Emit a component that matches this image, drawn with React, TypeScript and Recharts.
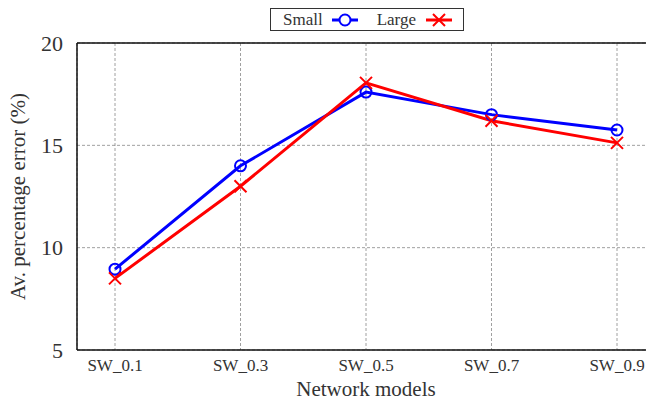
import { LineChart, Line, XAxis, YAxis, CartesianGrid } from 'recharts';

const MODELS = ['SW_0.1', 'SW_0.3', 'SW_0.5', 'SW_0.7', 'SW_0.9'];
const SMALL = [8.95, 14.0, 17.6, 16.5, 15.75];
const LARGE = [8.5, 13.0, 18.05, 16.2, 15.12];
const Y_TICKS = [5, 10, 15, 20];

const data = MODELS.map((m, i) => ({ model: m, small: SMALL[i], large: LARGE[i] }));

const FONT = '"Liberation Serif", "Times New Roman", serif';

const CircleDot = (props: any) => {
    const { cx, cy } = props;
    if (cx == null || cy == null) return null;
    return <circle cx={cx} cy={cy} r={5.5} fill="none" stroke="#0000ff" strokeWidth={2} />;
};

const CrossDot = (props: any) => {
    const { cx, cy } = props;
    if (cx == null || cy == null) return null;
    const s = 6;
    return <path d={`M${cx - s},${cy - s}L${cx + s},${cy + s}M${cx - s},${cy + s}L${cx + s},${cy - s}`} stroke="#ff0000" strokeWidth={2} fill="none" />;
};

function LegendBox() {
    return (
        <div style={{ position: 'absolute', left: 270, top: 8, display: 'flex', alignItems: 'center', border: '1px solid #333', height: 21, padding: '0 9px 0 12px', fontFamily: FONT, fontSize: 17, color: '#333', background: 'white' }}>
            <span>Small</span>
            <svg width={30} height={14} style={{ margin: '0 17px 0 7px' }}>
                <line x1={2} y1={7} x2={28} y2={7} stroke="#0000ff" strokeWidth={3} />
                <circle cx={15} cy={7} r={5.5} fill="white" stroke="#0000ff" strokeWidth={2} />
            </svg>
            <span>Large</span>
            <svg width={30} height={14} style={{ marginLeft: 8 }}>
                <line x1={2} y1={7} x2={28} y2={7} stroke="#ff0000" strokeWidth={3} />
                <path d="M9,1L21,13M9,13L21,1" stroke="#ff0000" strokeWidth={2} />
            </svg>
        </div>
    );
}

export default function App() {
    return (
        <div style={{ position: 'absolute', left: 0, top: 0, width: 646, height: 402, overflow: 'hidden', background: 'white' }}>
            <LineChart width={690} height={402} data={data} margin={{ top: 42, right: 35, bottom: 0, left: 0 }}>
                <CartesianGrid stroke="#888" strokeDasharray="3 2" strokeWidth={0.8} />
                <XAxis dataKey="model" padding={{ left: 38, right: 38 }} height={52} axisLine={{ stroke: '#111', strokeWidth: 1.5 }} tickLine={false}
                    tick={{ fontFamily: FONT, fontSize: 17, fill: '#333' }} tickMargin={3}
                    label={{ value: 'Network models', position: 'insideBottom', offset: 6, style: { fontFamily: FONT, fontSize: 21, fill: '#333' } }} />
                <XAxis xAxisId="top" orientation="top" dataKey="model" height={1} tick={false} tickLine={false} axisLine={{ stroke: '#111', strokeWidth: 1.5 }} />
                <YAxis domain={[5, 20]} ticks={Y_TICKS} width={77} axisLine={{ stroke: '#111', strokeWidth: 1.5 }} tickLine={false}
                    tick={{ fontFamily: FONT, fontSize: 22, fill: '#333' }} tickMargin={8}
                    label={{ value: 'Av. percentage error (%)', angle: -90, position: 'insideLeft', offset: 18, style: { textAnchor: 'middle', fontFamily: FONT, fontSize: 21, fill: '#333' } }} />
                <Line dataKey="small" name="Small" stroke="#0000ff" strokeWidth={3} dot={<CircleDot />} isAnimationActive={false} />
                <Line dataKey="large" name="Large" stroke="#ff0000" strokeWidth={3} dot={<CrossDot />} isAnimationActive={false} />
            </LineChart>
            <LegendBox />
        </div>
    );
}
